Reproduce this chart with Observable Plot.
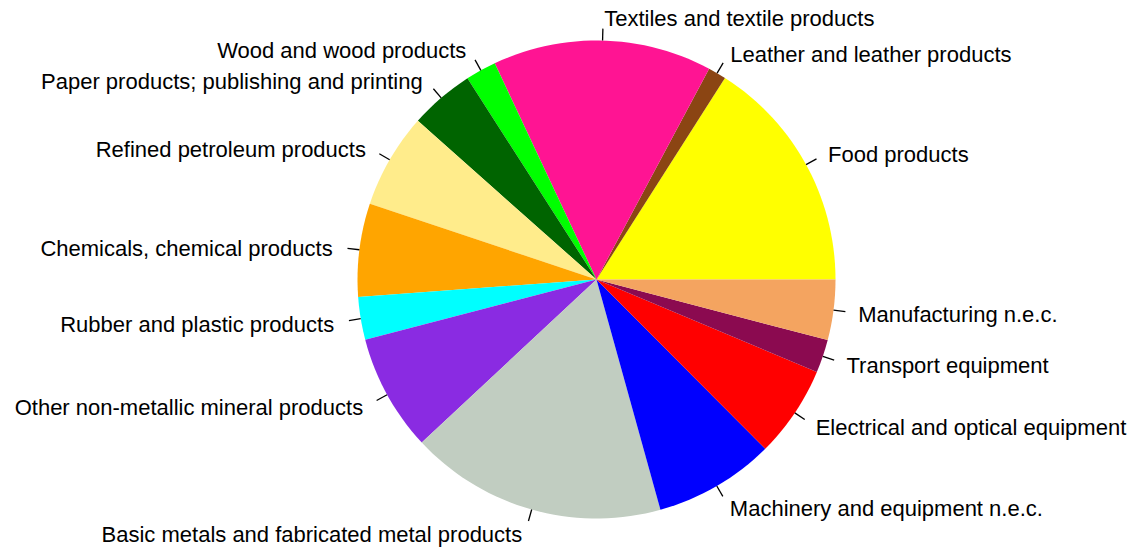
<!DOCTYPE html>
<html><head><meta charset="utf-8">
<script src="https://cdn.jsdelivr.net/npm/d3@7"></script>
<script src="https://cdn.jsdelivr.net/npm/@observablehq/plot@0.6"></script>
<style>html,body{margin:0;padding:0;background:#fff}</style>
</head><body><div id="chart"></div>
<script>
// Data (percent shares, counter-clockwise from 3 o'clock)
const categories = [
  "Food products",
  "Leather and leather products",
  "Textiles and textile products",
  "Wood and wood products",
  "Paper products; publishing and printing",
  "Refined petroleum products",
  "Chemicals, chemical products",
  "Rubber and plastic products",
  "Other non-metallic mineral products",
  "Basic metals and fabricated metal products",
  "Machinery and equipment n.e.c.",
  "Electrical and optical equipment",
  "Transport equipment",
  "Manufacturing n.e.c."
];
const shares = [15.97, 1.22, 14.81, 2.08, 4.36, 6.42, 6.31, 2.89, 7.89, 17.36, 8.17, 6.19, 2.25, 4.08];
const colors = ["#FFFF00", "#8B4513", "#FF1493", "#00FF00", "#006400", "#FFEC8B", "#FFA500",
                "#00FFFF", "#8A2BE2", "#C1CDC1", "#0000FF", "#FF0000", "#8B0A50", "#F4A460"];

// Layout
const W = 1141, H = 550;
const PX = 239;            // pixels per radius unit
const CX = 596, CY = 279;  // pie centre in pixels
const EDGES = 200;

// Build slice polygons from the data (as in R's pie())
const total = d3.sum(shares);
let cum = 0;
const polys = [], ticks = [], labels = [];
categories.forEach((name, i) => {
  const a0 = 2 * Math.PI * cum / total;
  cum += shares[i];
  const a1 = 2 * Math.PI * cum / total;
  const n = Math.max(2, Math.floor(EDGES * (a1 - a0) / (2 * Math.PI)));
  polys.push({name, x: 0, y: 0});
  for (let k = 0; k <= n; k++) {
    const t = a0 + (a1 - a0) * k / n;
    polys.push({name, x: Math.cos(t), y: Math.sin(t)});
  }
  polys.push({name, x: 0, y: 0});
  const m = (a0 + a1) / 2;
  ticks.push({x1: Math.cos(m), y1: Math.sin(m), x2: 1.05 * Math.cos(m), y2: 1.05 * Math.sin(m)});
  labels.push({name, x: 1.1 * Math.cos(m), y: 1.1 * Math.sin(m)});
});

const chart = Plot.plot({
  width: W, height: H, margin: 0,
  style: {fontFamily: "'Liberation Sans', Arial, sans-serif", background: "#fff", color: "#000"},
  x: {domain: [-CX / PX, (W - CX) / PX], axis: null},
  y: {domain: [-(H - CY) / PX, CY / PX], axis: null},
  color: {domain: categories, range: colors},
  marks: [
    Plot.line(polys, {x: "x", y: "y", z: "name", fill: "name", stroke: "none", curve: "linear"}),
    Plot.link(ticks, {x1: "x1", y1: "y1", x2: "x2", y2: "y2", stroke: "#000", strokeWidth: 1.3}),
    Plot.text(labels.filter(d => d.x >= 0), {x: "x", y: "y", text: "name", textAnchor: "start", fontSize: 22, dx: 1, dy: 2, fill: "#000"}),
    Plot.text(labels.filter(d => d.x < 0), {x: "x", y: "y", text: "name", textAnchor: "end", fontSize: 22, dx: -3, dy: 2, fill: "#000"})
  ]
});
document.getElementById("chart").appendChild(chart);
</script>
</body></html>
